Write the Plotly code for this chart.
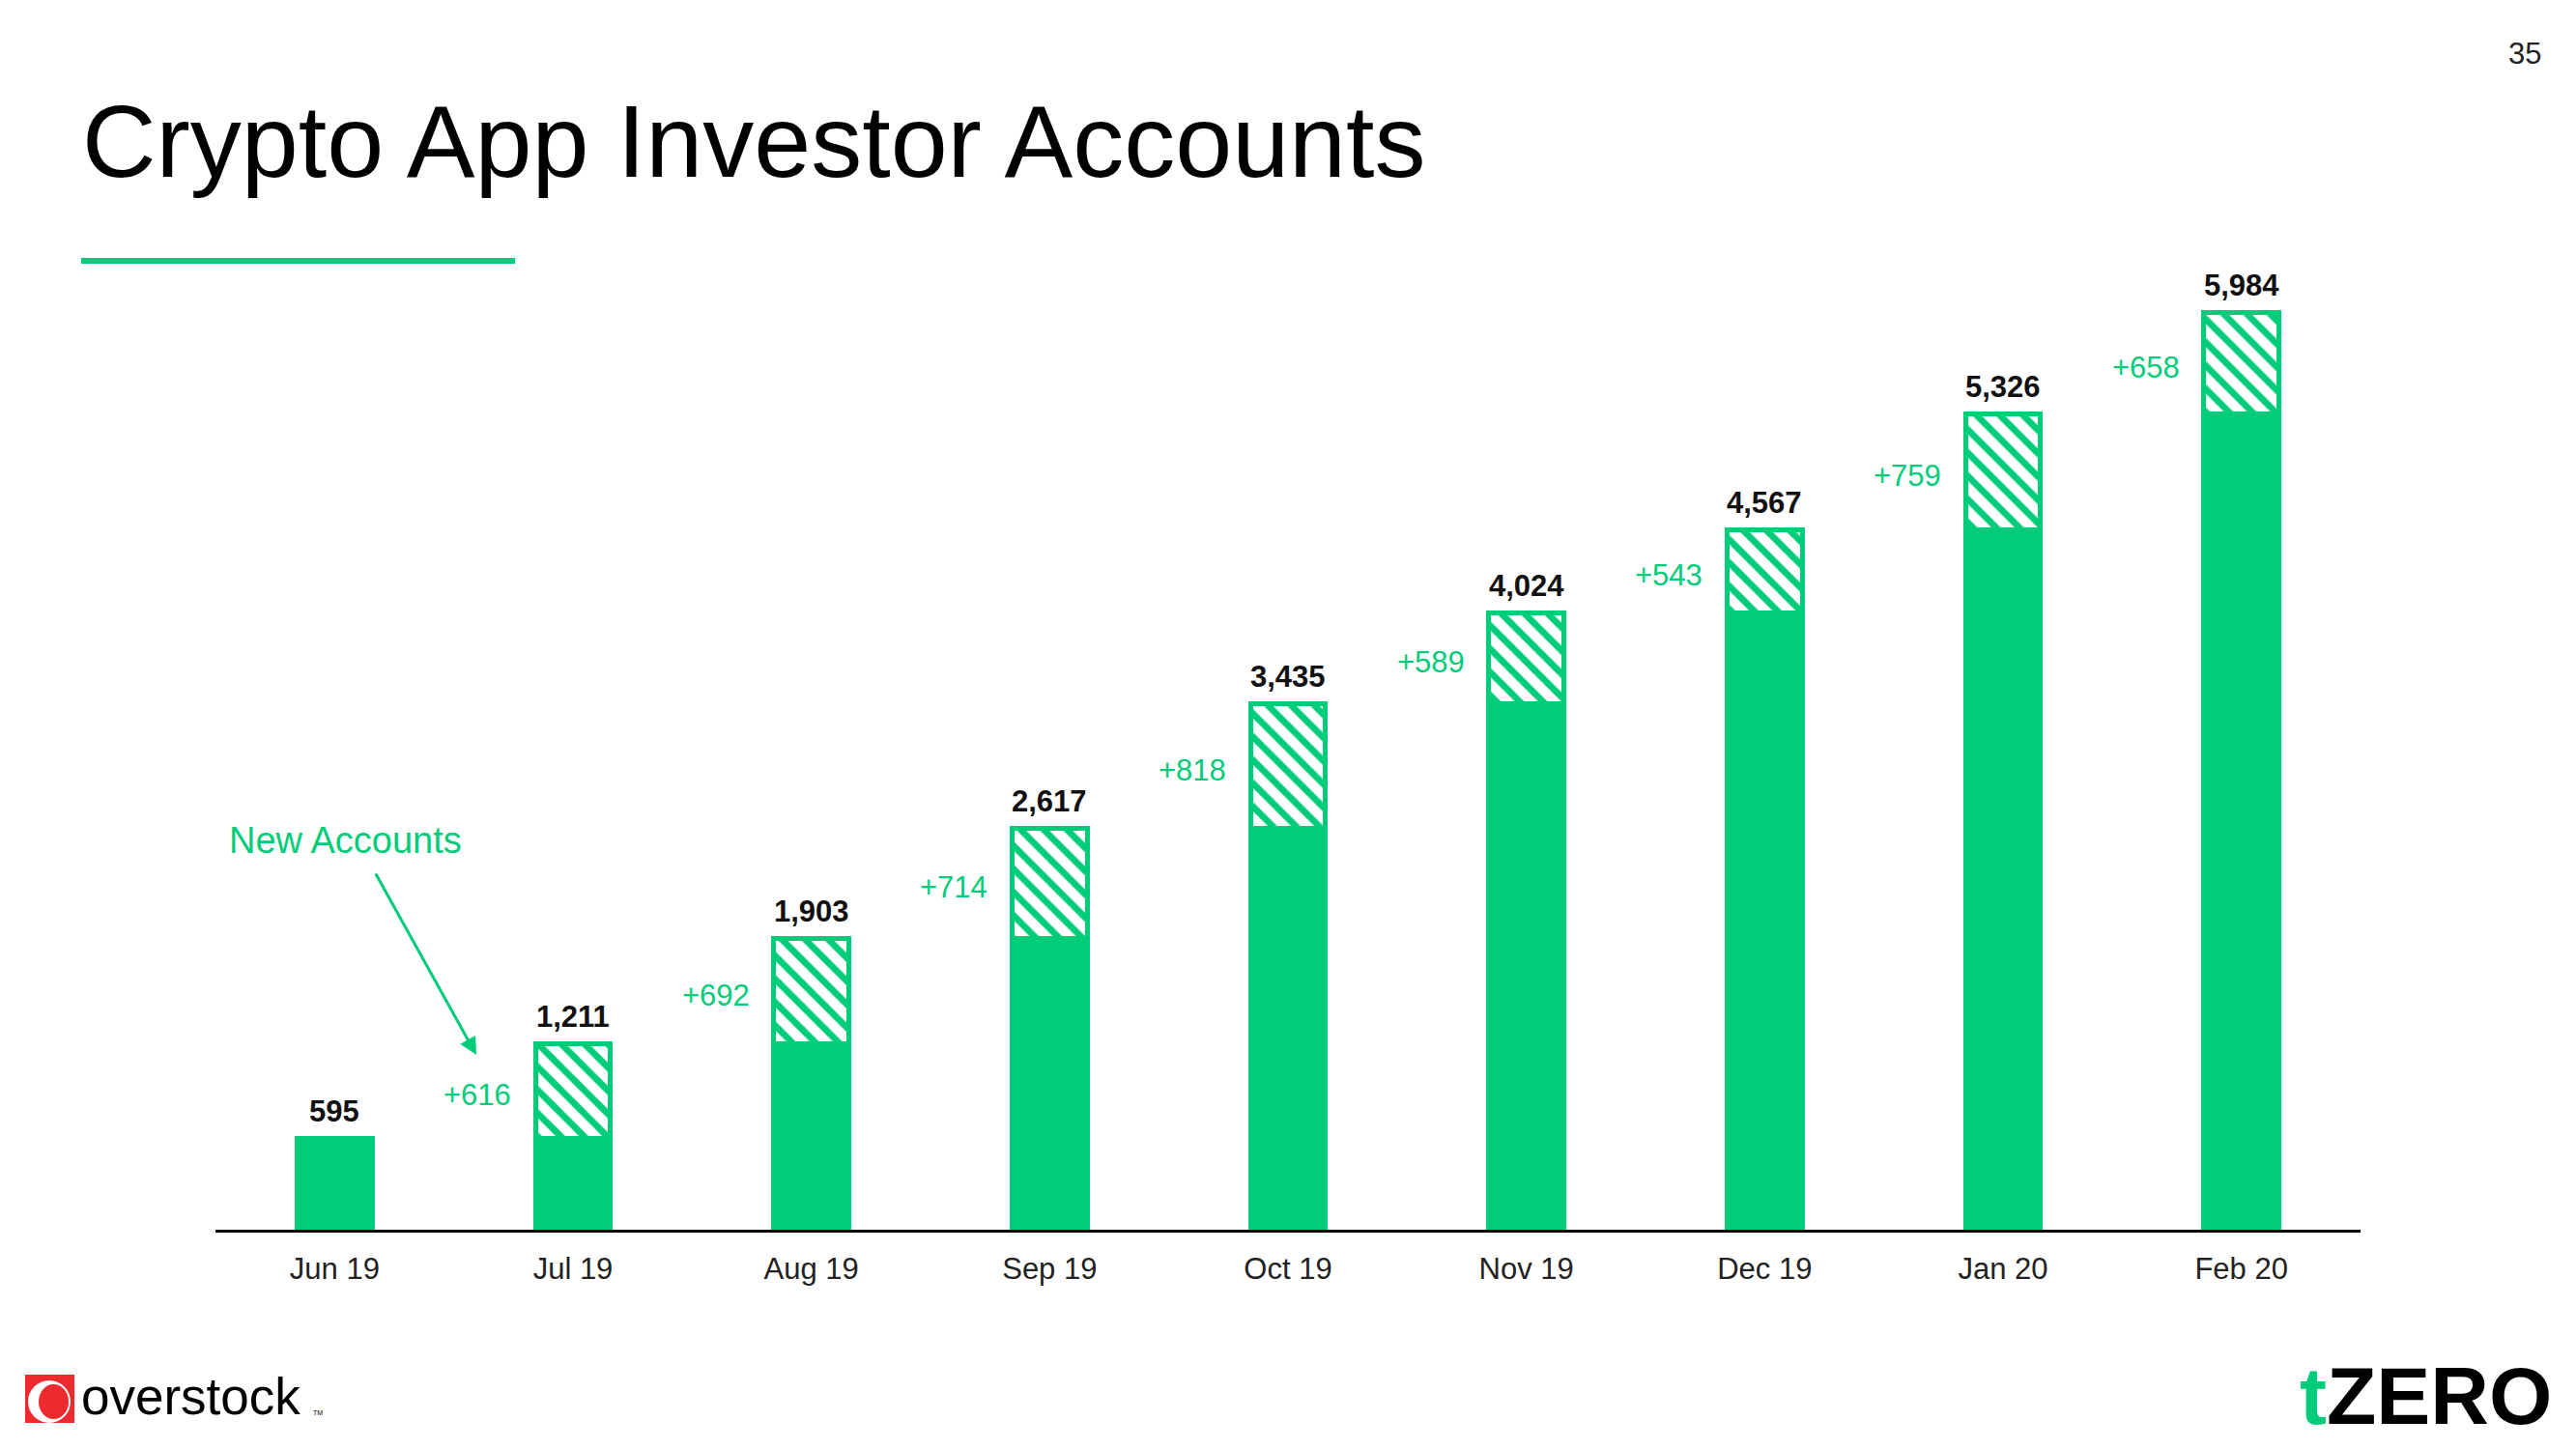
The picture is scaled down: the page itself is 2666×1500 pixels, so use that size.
import plotly.graph_objects as go

# ---- data ----
months = ["Jun 19", "Jul 19", "Aug 19", "Sep 19", "Oct 19", "Nov 19", "Dec 19", "Jan 20", "Feb 20"]
totals = [595, 1211, 1903, 2617, 3435, 4024, 4567, 5326, 5984]
new_accounts = [None, 616, 692, 714, 818, 589, 543, 759, 658]

GREEN = "#00CC7A"
FONT = "Liberation Sans, Arial, sans-serif"

base = [t - (n or 0) for t, n in zip(totals, new_accounts)]

# page / plot geometry (pixels)
W_PAGE, H_PAGE = 2666, 1500
L, R, T, B = 223, 2443, 242, 1273
PW, PH = R - L, B - T


def px(x):
    return (x - L) / PW


def py(y):
    return (B - y) / PH


fig = go.Figure()
fig.add_trace(go.Bar(
    x=months, y=base, width=0.316,
    marker=dict(color=GREEN, line=dict(color=GREEN, width=5)),
    hoverinfo="skip", name="Previous",
))
fig.add_trace(go.Bar(
    x=months, y=new_accounts, width=0.316,
    marker=dict(color=GREEN, line=dict(color=GREEN, width=5),
                pattern=dict(shape="\\", fgcolor=GREEN, bgcolor="white",
                             size=17, solidity=0.4, fillmode="replace")),
    hoverinfo="skip", name="New Accounts",
))

annotations = []
# total labels
for m, t in zip(months, totals):
    annotations.append(dict(x=m, y=t, xref="x", yref="y", text=f"{t:,}",
                            showarrow=False, yanchor="middle", yshift=28,
                            font=dict(family=FONT, size=31, color="#111111", weight="bold")))
# new accounts labels
for m, t, n in zip(months, totals, new_accounts):
    if n is None:
        continue
    annotations.append(dict(x=m, y=t - n / 2, xref="x", yref="y", text=f"+{n}",
                            showarrow=False, xanchor="right", yanchor="middle",
                            xshift=-62, yshift=-4,
                            font=dict(family=FONT, size=31, color=GREEN)))

# title
annotations.append(dict(x=px(83), y=py(146), xref="paper", yref="paper",
                        text="Crypto App Investor Accounts", showarrow=False,
                        xanchor="left", yanchor="middle",
                        font=dict(family=FONT, size=106, color="#000000")))
# page number
annotations.append(dict(x=px(2613), y=py(55), xref="paper", yref="paper",
                        text="35", showarrow=False, xanchor="center", yanchor="middle",
                        font=dict(family=FONT, size=31, color="#222222")))
# New Accounts callout
annotations.append(dict(x=px(357), y=py(870), xref="paper", yref="paper",
                        text="New Accounts", showarrow=False, xanchor="center", yanchor="middle",
                        font=dict(family=FONT, size=38, color=GREEN)))
annotations.append(dict(x=px(493), y=py(1092), xref="paper", yref="paper",
                        text="", showarrow=True, ax=-105, ay=-189,
                        arrowhead=2, arrowsize=1.2, arrowwidth=3, arrowcolor=GREEN, standoff=0))
# overstock logo text
annotations.append(dict(x=px(82), y=py(1445), xref="paper", yref="paper",
                        text="overstock", showarrow=False, xanchor="left", yanchor="middle",
                        font=dict(family=FONT, size=53, color="#000000")))
annotations.append(dict(x=px(322), y=py(1462), xref="paper", yref="paper",
                        text="TM", showarrow=False, xanchor="left", yanchor="middle",
                        font=dict(family=FONT, size=7, color="#000000")))
# tZERO logo
annotations.append(dict(x=px(2510), y=py(1445), xref="paper", yref="paper",
                        text=f"<span style='color:{GREEN}'>t</span>ZERO", showarrow=False,
                        xanchor="center", yanchor="middle",
                        font=dict(family=FONT, size=84, color="#000000", weight="bold")))

shapes = [
    # title underline
    dict(type="rect", xref="paper", yref="paper", x0=px(84), x1=px(533), y0=py(273), y1=py(267),
         fillcolor=GREEN, line=dict(width=0)),
    # overstock mark
    dict(type="rect", xref="paper", yref="paper", x0=px(26), x1=px(77), y0=py(1473), y1=py(1423),
         fillcolor="#EE2A2E", line=dict(width=0)),
    dict(type="circle", xref="paper", yref="paper", x0=px(29), x1=px(73), y0=py(1473), y1=py(1429),
         fillcolor="white", line=dict(width=0)),
    dict(type="circle", xref="paper", yref="paper", x0=px(40), x1=px(71), y0=py(1469), y1=py(1433),
         fillcolor="#EE2A2E", line=dict(width=0)),
]

fig.update_layout(
    width=W_PAGE, height=H_PAGE,
    margin=dict(l=L, r=W_PAGE - R, t=T, b=H_PAGE - B),
    paper_bgcolor="white", plot_bgcolor="white",
    barmode="stack", showlegend=False,
    annotations=annotations, shapes=shapes,
    xaxis=dict(type="category", range=[-0.5, 8.5], showline=True, linecolor="#000000", linewidth=3,
               showgrid=False, ticks="", ticklabelstandoff=11,
               tickfont=dict(family=FONT, size=31, color="#222222")),
    yaxis=dict(range=[0, 6500], visible=False, showgrid=False, zeroline=False),
)

fig.write_html("out.html")
